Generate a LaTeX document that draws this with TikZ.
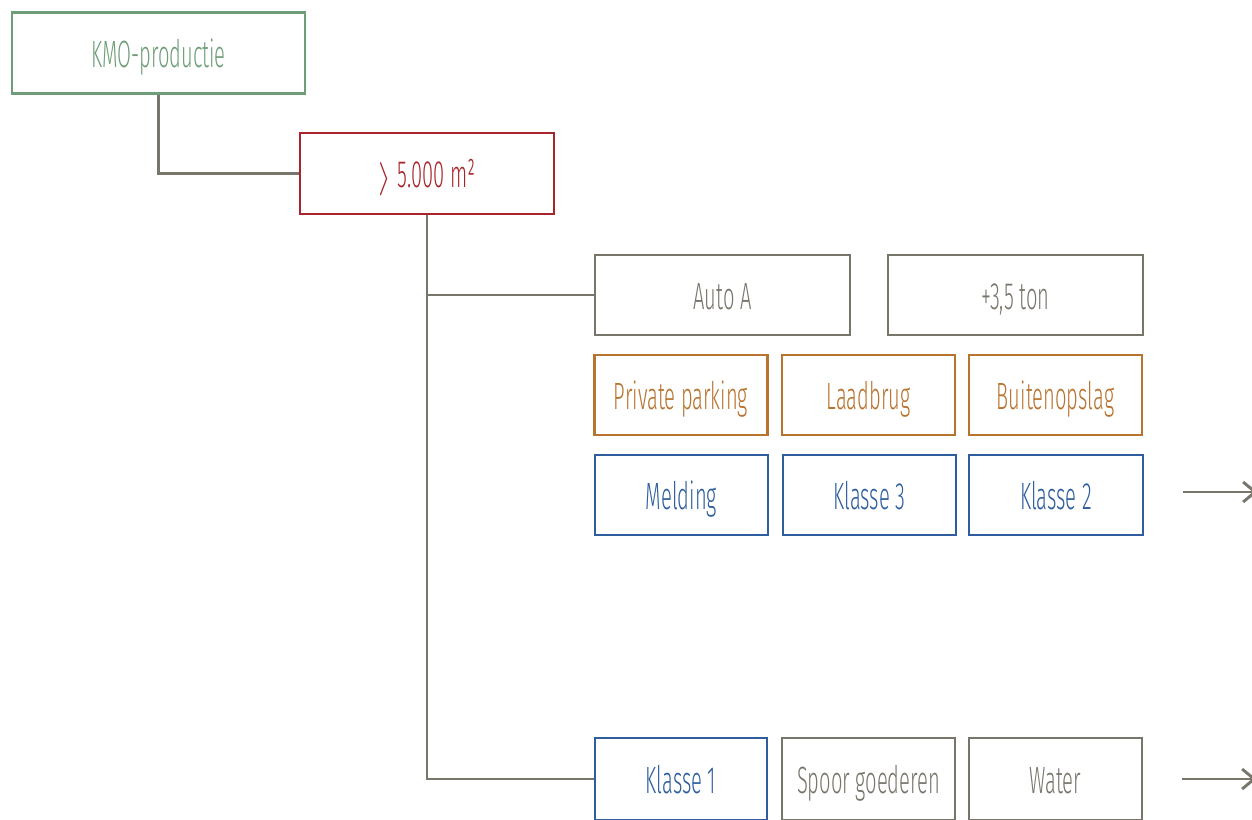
\documentclass[tikz,border=0pt]{standalone}
\usepackage{fontspec}
\setmainfont{Fira Sans Light}[FakeStretch=0.53]
\usetikzlibrary{arrows.meta,calc}
\definecolor{kmogreen}{HTML}{6E9E78}
\definecolor{sizered}{HTML}{A8262B}
\definecolor{taupe}{HTML}{78756B}
\definecolor{ochre}{HTML}{B8732E}
\definecolor{steel}{HTML}{2E5E9E}
\tikzset{
  bx/.style 2 args={draw, line width=2.1pt, fill=white, inner sep=0pt,
    minimum width=#1*0.75pt, minimum height=#2*0.75pt,
    text height=21pt, text depth=0pt,
    font=\fontsize{28.5}{32}\selectfont},
  kmobox/.style={bx={293}{81}, draw=kmogreen, text=kmogreen},
  redbox/.style={bx={254}{81}, draw=sizered, text=sizered},
  greybox/.style 2 args={bx={#1}{#2}, draw=taupe, text=taupe},
  orangebox/.style={bx={173}{80}, draw=ochre, text=ochre},
  bluebox/.style 2 args={bx={#1}{#2}, draw=steel, text=steel},
  link/.style={draw=taupe, line width=2.2pt},
  outarrow/.style={draw=taupe, line width=2.2pt,
    -{Straight Barb[length=9pt, width=15pt, line width=2.2pt]}}
}
\begin{document}
\begin{tikzpicture}[x=0.75pt, y=-0.75pt]
  \useasboundingbox (0,0) rectangle (1252,819);
  \clip (0,0) rectangle (1252,819);

  \node[kmobox] (kmo) at (158.5,53) {KMO-productie};
  \node[redbox] (size) at (427,173.5) {$\rangle$\,5.000 m²};

  \node[greybox={255}{80}] (auto) at (722.5,295) {Auto A};
  \node[greybox={255}{80}] (ton) at (1015.5,295) {+3,5 ton};

  \node[orangebox] (parking) at (681,395) {Private parking};
  \node[orangebox] (laad) at (868.5,395) {Laadbrug};
  \node[orangebox] (buiten) at (1055.5,395) {Buitenopslag};

  \node[bluebox={173}{80}] (melding) at (681.5,495) {Melding};
  \node[bluebox={173}{80}] (k3) at (869.5,495) {Klasse 3};
  \node[bluebox={174}{80}] (k2) at (1056,495) {Klasse 2};

  \node[bluebox={172}{82}] (k1) at (681,779) {Klasse 1};
  \node[greybox={173}{82}] (spoor) at (868.5,779) {Spoor goederen};
  \node[greybox={173}{82}] (water) at (1055.5,779) {Water};

  % tree connectors
  \draw[link] (kmo.south) |- (size.west);
  \draw[link] (size.south) |- (auto.west);
  \draw[link] (size.south) |- (k1.west);

  % outgoing arrows on the right edge
  \coordinate (outA0) at ($(k2.east)+(39,-3)$);
  \coordinate (outA1) at ($(k2.east)+(113,-3)$);
  \coordinate (outB0) at ($(water.east)+(39,0)$);
  \coordinate (outB1) at ($(water.east)+(113,0)$);
  \draw[outarrow] (outA0) -- (outA1);
  \draw[outarrow] (outB0) -- (outB1);
\end{tikzpicture}
\end{document}
